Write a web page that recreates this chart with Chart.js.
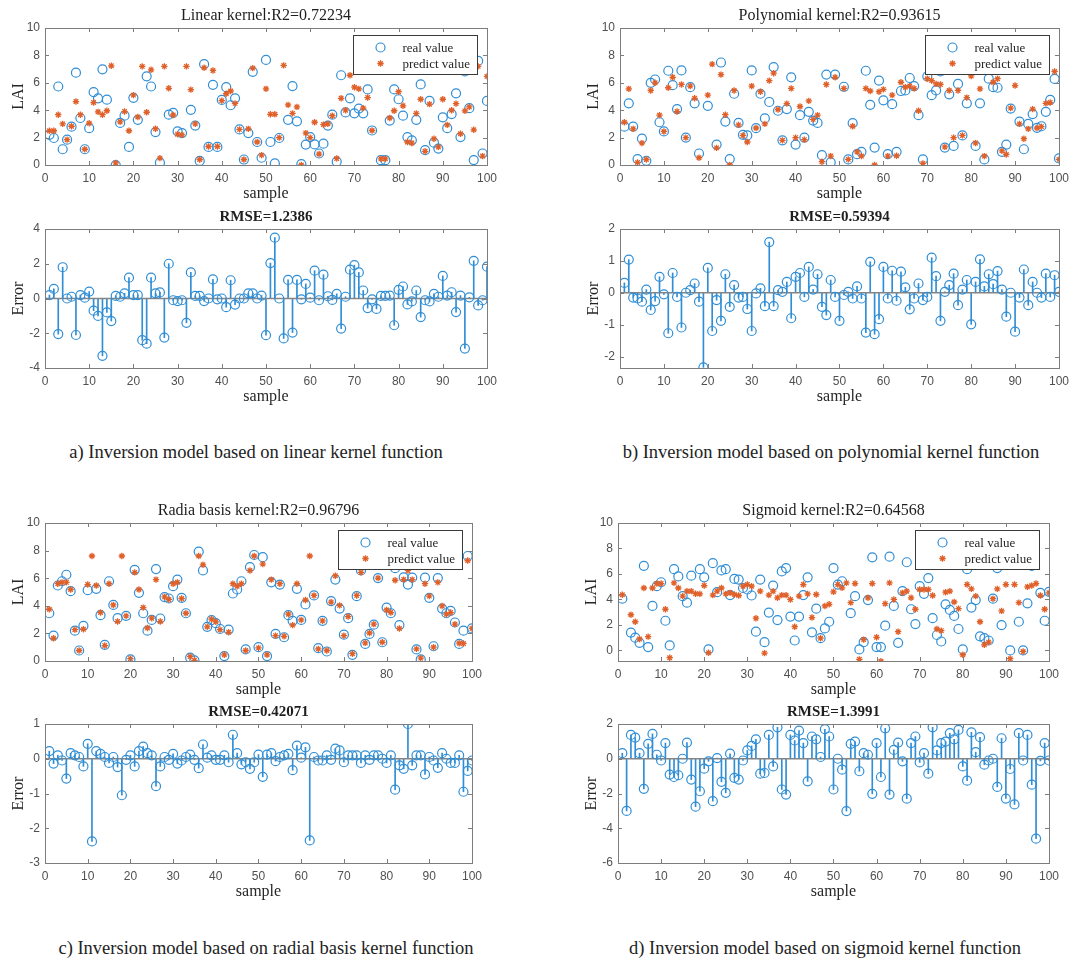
<!DOCTYPE html>
<html>
<head>
<meta charset="utf-8">
<script src="https://cdn.jsdelivr.net/npm/chart.js@4.4.0/dist/chart.umd.min.js"></script>
<style>
  body { margin: 0; background: #fff; }
  #page { position: relative; width: 1075px; height: 962px; overflow: hidden; }
  canvas { position: absolute; }
  .cap { position: absolute; width: 520px; text-align: center; font: 18.5px "Liberation Serif", serif; color: #222; line-height: 20px; }
</style>
</head>
<body>
<div id="page">
  <canvas id="fitA"></canvas>
  <canvas id="errA"></canvas>
  <canvas id="fitB"></canvas>
  <canvas id="errB"></canvas>
  <canvas id="fitC"></canvas>
  <canvas id="errC"></canvas>
  <canvas id="fitD"></canvas>
  <canvas id="errD"></canvas>
  <div class="cap" style="left:-4px; top:442px;">a) Inversion model based on linear kernel function</div>
  <div class="cap" style="left:571px; top:442px;">b) Inversion model based on polynomial kernel function</div>
  <div class="cap" style="left:6px; top:938px;">c) Inversion model based on radial basis kernel function</div>
  <div class="cap" style="left:565px; top:938px;">d) Inversion model based on sigmoid kernel function</div>
</div>
<script>
// sample index 1..100
const samples = Array.from({ length: 100 }, (_, i) => i + 1);

// linear kernel
const realA = [2.2,1.97,5.73,1.15,1.85,2.8,6.74,3.43,1.15,2.69,
  5.32,4.87,6.98,4.77,null,0.0,3.07,3.6,1.32,4.9,
  3.3,null,6.47,5.73,2.4,0.17,null,3.67,3.8,2.45,
  2.33,null,4.03,2.88,0.3,7.36,1.32,5.85,1.32,4.75,
  5.68,4.36,4.87,2.6,0.4,2.33,6.8,1.68,0.53,7.67,
  1.68,0.12,1.97,null,3.3,5.76,3.19,0.07,1.49,2.04,
  1.5,0.84,1.56,2.88,3.67,0.24,6.55,3.84,4.87,3.77,
  4.12,3.77,5.52,2.52,null,0.35,0.35,3.24,5.52,4.8,
  3.6,2.04,1.8,3.3,5.88,1.08,4.68,1.63,1.2,3.48,
  2.69,3.72,5.23,2.04,6.83,4.15,0.36,7.6,0.84,4.68];
const predA = [2.5,2.5,3.67,3.0,1.85,2.83,4.63,3.67,1.15,3.05,
  4.56,3.88,3.67,3.96,7.24,0.15,3.15,3.9,2.5,5.1,
  3.5,7.2,3.85,6.95,2.65,0.5,7.2,5.6,3.65,2.25,
  2.2,7.2,5.5,3.0,0.4,7.1,1.35,6.9,1.35,4.7,
  5.2,5.4,4.5,2.6,0.4,2.64,7.07,1.68,0.72,5.56,
  3.7,3.7,2.0,7.27,4.39,3.77,4.24,0.0,2.33,2.0,
  3.12,0.8,2.95,3.0,3.6,0.48,4.87,4.0,6.55,5.68,
  5.56,4.15,4.92,2.52,null,0.45,0.45,3.43,3.96,5.35,
  4.32,1.68,1.6,3.77,4.8,1.0,4.44,1.92,1.32,4.8,
  2.93,4.0,4.48,2.28,3.95,4.24,2.57,7.2,0.65,6.47];
const errA = [0.2,0.55,-2.05,1.8,0.0,0.1,-2.1,0.2,0.05,0.4,
  -0.7,-1.0,-3.3,-0.8,-1.3,0.15,0.1,0.3,1.2,0.2,
  0.2,-2.4,-2.6,1.2,0.3,0.35,-2.25,2.0,-0.1,-0.15,
  -0.1,-1.4,1.5,0.15,0.15,-0.15,0.0,1.1,-0.05,0.0,
  -0.5,1.05,-0.35,0.0,0.0,0.3,0.3,0.0,0.17,-2.11,
  2.04,3.5,0.0,-2.3,1.07,-1.96,1.07,-0.05,0.84,0.05,
  1.6,-0.1,1.37,0.13,-0.08,0.27,-1.73,0.1,1.66,1.92,
  1.5,0.46,-0.55,-0.05,-0.6,0.15,0.15,0.17,-1.54,0.5,
  0.69,-0.34,-0.17,0.46,-1.07,-0.1,-0.17,0.27,0.1,1.3,
  0.17,0.36,-0.78,0.17,-2.88,0.07,2.17,-0.4,-0.1,1.83];

// polynomial kernel
const realB = [2.8,4.5,2.8,0.43,1.92,0.31,6.0,6.24,3.12,2.45,
  6.88,5.83,4.08,6.9,2.0,5.68,4.5,0.84,null,4.32,
  null,1.49,7.48,3.17,0.43,5.2,3.07,2.2,2.16,6.9,
  2.69,5.2,3.4,4.6,7.15,3.96,1.8,4.08,6.4,1.49,
  3.64,2.0,3.88,3.24,3.07,0.72,6.6,0.19,6.6,null,
  5.71,0.41,3.05,0.79,0.96,6.88,4.39,1.27,6.16,4.72,
  0.79,4.44,0.96,5.4,5.44,6.35,5.76,3.64,0.41,6.47,
  5.1,5.44,6.83,1.27,5.16,1.39,5.92,2.16,4.5,7.5,
  1.39,4.5,0.41,6.3,5.68,5.64,0.96,1.49,4.12,7.0,
  3.17,1.15,3.0,3.72,2.71,2.83,3.88,4.75,6.28,0.48];
const predB = [3.12,5.56,2.64,0.19,1.6,0.4,5.44,6.0,3.64,2.45,
  5.64,6.4,3.9,5.88,2.0,5.76,4.87,0.53,null,5.1,
  7.36,1.25,6.6,3.67,0.0,5.44,2.93,2.16,1.68,5.76,
  2.7,5.35,3.0,6.16,6.7,4.05,1.8,4.48,5.59,2.0,
  4.27,1.85,4.68,3.33,3.64,0.24,5.88,0.65,6.4,null,
  5.59,0.41,2.83,0.96,0.65,5.59,5.4,0.0,5.35,5.52,
  0.65,5.1,0.67,6.04,5.68,5.76,5.59,3.96,0.12,6.3,
  6.16,5.92,5.88,1.32,5.44,2.0,5.44,2.16,4.92,6.5,
  1.6,5.56,0.65,6.9,6.04,6.3,1.03,0.77,4.15,5.8,
  3.0,1.92,2.64,4.08,2.7,2.8,4.5,4.56,6.83,0.41];
const errB = [0.31,1.04,-0.15,-0.18,-0.28,0.1,-0.54,-0.26,0.5,-0.05,
  -1.27,0.62,-0.13,-1.09,0.0,0.08,0.29,-0.28,-2.34,0.78,
  -1.2,-0.23,-0.88,0.58,-0.44,0.24,-0.15,-0.13,-0.51,-1.2,
  -0.02,0.14,-0.42,1.59,-0.42,0.08,0.03,0.34,-0.8,0.5,
  0.62,-0.13,0.81,0.1,0.58,-0.44,-0.7,0.4,-0.13,-0.88,
  -0.07,0.03,-0.18,0.2,-0.18,-1.25,0.97,-1.3,-0.83,0.81,
  -0.18,0.69,-0.25,0.66,0.17,-0.52,-0.18,0.29,-0.23,-0.13,
  1.1,0.52,-0.88,0.03,0.24,0.6,-0.39,0.1,0.4,-0.99,
  0.34,1.05,0.2,0.58,0.27,0.68,0.1,-0.75,0.0,-1.22,
  -0.15,0.73,-0.39,0.34,0.0,-0.15,0.6,-0.13,0.55,0.03];

// radial basis kernel
const realC = [3.46,1.84,5.47,5.78,6.25,5.06,2.2,0.76,2.55,5.13,
  null,5.23,3.32,1.17,5.78,4.06,3.1,null,3.27,0.12,
  6.61,4.94,3.46,2.2,2.98,6.66,3.08,4.63,4.53,5.42,
  5.9,4.58,3.46,0.24,0.05,7.92,6.56,2.48,2.96,2.74,
  2.32,0.36,2.27,4.89,5.18,5.78,0.84,6.8,7.68,1.0,
  7.52,0.36,5.7,1.96,5.54,1.72,3.32,2.91,5.23,2.98,
  4.1,null,4.75,0.93,2.91,0.69,4.34,5.9,3.8,1.91,
  3.1,0.45,4.7,6.56,1.24,1.96,2.63,6.01,1.36,3.87,
  3.46,6.73,2.6,6.06,5.54,6.04,0.84,0.12,6.04,4.58,
  1.07,6.01,3.8,3.46,3.63,2.79,1.24,2.2,7.61,2.36];
const predC = [3.75,1.65,5.6,5.7,5.7,5.18,2.27,0.76,2.3,5.54,
  7.61,5.47,3.51,1.12,5.6,4.06,2.86,7.61,3.27,0.17,
  6.42,5.18,3.87,2.39,3.1,5.9,2.86,4.65,4.46,5.6,
  5.7,4.53,3.46,0.33,0.05,7.61,6.97,2.48,3.03,2.84,
  2.27,0.45,2.08,5.6,5.42,5.6,0.76,6.56,7.61,0.95,
  7.02,0.45,5.9,1.84,5.6,1.79,3.39,2.6,5.6,2.98,
  4.42,7.61,4.75,0.88,2.91,0.76,4.27,6.18,4.03,1.84,
  3.22,0.53,4.75,6.42,1.31,2.03,2.67,6.01,1.36,3.7,
  3.51,5.85,2.36,5.9,6.56,5.9,0.88,0.21,5.6,4.7,
  1.0,5.7,3.99,3.39,3.51,2.67,1.29,1.27,7.28,2.36];
const errC = [0.22,-0.14,0.1,-0.05,-0.57,0.16,0.1,0.05,-0.22,0.43,
  -2.38,0.22,0.14,0.05,-0.12,0.05,-0.24,-1.05,-0.03,0.1,
  -0.22,0.22,0.35,0.16,0.1,-0.79,-0.22,0.05,-0.03,0.14,
  -0.14,-0.05,0.05,0.12,-0.03,-0.27,0.41,0.03,0.1,-0.03,
  -0.03,0.1,-0.1,0.69,0.16,-0.16,-0.1,-0.29,-0.1,0.12,
  -0.52,0.12,0.16,-0.07,0.05,0.1,0.14,-0.33,0.38,0.03,
  0.33,-2.35,0.05,-0.05,-0.05,0.1,-0.03,0.29,0.24,-0.1,
  0.1,0.1,0.1,-0.12,0.1,-0.03,0.1,0.1,0.0,-0.12,
  0.1,-0.89,-0.19,-0.29,1.0,-0.19,0.1,0.1,-0.45,0.05,
  -0.05,-0.26,0.16,0.0,-0.12,-0.12,0.1,-0.95,-0.35,-0.05];

// sigmoid kernel
const realD = [4.06,null,1.4,1.0,0.6,6.64,0.26,3.49,5.04,5.35,
  2.33,0.39,6.38,5.81,4.26,3.75,5.87,null,6.38,5.74,
  0.08,6.85,4.57,6.28,6.38,4.34,5.61,5.56,4.9,4.78,
  4.31,1.47,5.56,0.65,2.97,5.09,2.38,6.2,6.46,2.66,
  0.78,2.66,4.34,5.74,1.42,3.28,0.96,1.73,2.25,6.46,
  5.17,5.43,null,2.92,4.26,0.08,0.65,3.95,7.31,0.26,
  0.26,1.94,7.36,3.49,0.6,4.65,6.92,3.23,2.07,5.04,
  4.44,5.68,2.53,1.21,0.7,3.62,3.18,2.71,1.68,0.08,
  6.38,3.36,3.95,1.11,0.96,0.78,4.06,6.46,1.99,7.5,
  0.0,7.8,2.25,0.0,3.7,6.64,null,4.52,2.33,4.6];
const predD = [4.37,null,2.8,2.25,0.9,4.9,1.08,4.9,5.25,5.25,
  3.23,-0.57,5.3,4.9,4.26,4.65,4.65,4.45,4.44,5.09,
  -0.18,4.34,4.65,4.9,4.44,4.52,4.39,4.31,5.04,5.17,
  5.04,2.53,4.65,-0.21,4.34,4.65,4.13,4.34,4.34,4.0,
  1.86,4.26,5.17,4.44,2.58,4.39,0.96,3.49,3.62,4.6,
  5.17,4.91,5.3,3.75,5.25,-0.7,0.85,4.13,5.25,1.03,
  -0.85,3.67,5.3,4.0,1.47,4.52,4.65,4.13,3.23,4.78,
  4.78,4.78,4.31,1.68,1.55,4.57,4.65,3.8,3.28,-0.34,
  5.17,4.83,4.26,2.25,0.44,0.65,4.06,4.83,3.1,5.17,
  -0.65,5.17,3.75,-0.08,4.99,5.09,5.25,4.31,3.23,4.52];
const errD = [0.32,-3.0,1.37,1.22,0.32,-1.73,0.86,1.43,0.23,-0.1,
  0.9,-0.91,-1.05,-0.95,0.0,0.93,-1.2,-2.76,-1.87,-0.57,
  -0.15,-2.44,0.04,-1.33,-1.96,0.29,-1.1,-1.2,-0.1,0.48,
  0.74,1.12,-0.86,-0.82,1.37,-0.44,1.81,-1.77,-2.06,1.37,
  1.05,1.62,0.9,-1.3,1.28,1.12,0.1,1.7,1.28,-1.77,
  0.0,-0.63,-3.01,0.86,0.99,-0.72,0.32,0.23,-2.02,0.9,
  -1.05,1.75,-2.06,0.51,0.93,-0.15,-2.3,0.9,1.28,-0.21,
  0.32,-0.86,1.81,0.48,0.9,0.99,1.47,1.12,1.66,-0.44,
  -1.26,1.52,0.38,1.24,-0.34,-0.1,0.0,-1.62,1.18,-2.29,
  -0.59,-2.63,1.47,-0.1,1.37,-1.49,-4.6,-0.12,0.9,-0.1];

const blue = '#2f8ed6';
const orange = '#e0602a';
const frameColor = '#7d7d7d';
const serif = 'Liberation Serif';
const sans = 'Liberation Sans';

// axes box with inward ticks on all four sides
const axesBox = {
  id: 'axesBox',
  afterDatasetsDraw(chart) {
    const { ctx, chartArea: a, scales } = chart;
    const len = 4;
    ctx.save();
    ctx.strokeStyle = frameColor;
    ctx.lineWidth = 1;
    ctx.beginPath();
    scales.x.ticks.forEach(t => {
      const px = Math.round(scales.x.getPixelForValue(t.value)) + 0.5;
      ctx.moveTo(px, a.bottom); ctx.lineTo(px, a.bottom - len);
      ctx.moveTo(px, a.top); ctx.lineTo(px, a.top + len);
    });
    scales.y.ticks.forEach(t => {
      const py = Math.round(scales.y.getPixelForValue(t.value)) + 0.5;
      ctx.moveTo(a.left, py); ctx.lineTo(a.left + len, py);
      ctx.moveTo(a.right, py); ctx.lineTo(a.right - len, py);
    });
    ctx.stroke();
    ctx.strokeRect(Math.round(a.left) + 0.5, Math.round(a.top) + 0.5,
      Math.round(a.right - a.left), Math.round(a.bottom - a.top));
    ctx.restore();
  }
};

// boxed legend in the upper right corner of the axes
const boxLegend = {
  id: 'boxLegend',
  afterDraw(chart) {
    const { ctx, chartArea: a } = chart;
    const w = 124, h = 39;
    const left = Math.round(a.right - 10 - w) + 0.5, top = Math.round(a.top + 7) + 0.5;
    ctx.save();
    ctx.fillStyle = '#fff';
    ctx.fillRect(left, top, w, h);
    ctx.strokeStyle = '#3a3a3a';
    ctx.lineWidth = 1;
    ctx.strokeRect(left, top, w, h);
    const rows = chart.data.datasets.slice().sort((p, q) => p.legendRank - q.legendRank);
    rows.forEach((ds, i) => {
      const y = top + 12 + i * 16;
      ctx.strokeStyle = ds.borderColor;
      ctx.fillStyle = 'rgba(0,0,0,0)';
      ctx.lineWidth = ds.borderWidth;
      Chart.helpers.drawPoint(ctx, { pointStyle: ds.pointStyle, radius: ds.radius, borderWidth: ds.borderWidth, rotation: 0 }, left + 27, y);
      ctx.fillStyle = '#262626';
      ctx.font = '13px "' + serif + '"';
      ctx.textBaseline = 'middle';
      ctx.fillText(ds.label, left + 49, y + 1);
    });
    ctx.restore();
  }
};

function place(canvas, area) {
  canvas.width = area.r - area.l + 60;
  canvas.height = area.b - area.t + 66;
  canvas.style.left = (area.l - 45) + 'px';
  canvas.style.top = (area.t - 26) + 'px';
}

function axisOptions(min, max, step, label, isX) {
  return {
    type: 'linear',
    min: min,
    max: max,
    offset: false,
    ticks: { stepSize: step, includeBounds: false, padding: isX ? 6 : 5, color: '#505050', font: { family: sans, size: 12 } },
    grid: { display: false, drawTicks: false, offset: false },
    border: { display: false },
    title: {
      display: true, text: label, color: '#262626',
      font: { family: serif, size: 16 },
      padding: isX ? { top: 0, bottom: 2 } : { top: 9, bottom: 0 }
    },
    afterFit(scale) {
      if (isX) scale.height = 40; else scale.width = 45;
    }
  };
}

function baseOptions(title, titleFont, yAxis) {
  return {
    responsive: false,
    animation: false,
    devicePixelRatio: 1,
    events: [],
    layout: { padding: { left: 0, right: 15, top: 0, bottom: 0 } },
    plugins: {
      legend: { display: false },
      tooltip: { enabled: false },
      title: {
        display: true, text: title, fullSize: false, color: '#1e1e1e',
        font: titleFont,
        padding: { top: 8, bottom: 4 }
      }
    },
    scales: {
      x: axisOptions(0, 100, 10, 'sample', true),
      y: yAxis
    }
  };
}

function fitChart(id, area, title, real, pred, yMin) {
  const canvas = document.getElementById(id);
  place(canvas, area);
  return new Chart(canvas, {
    type: 'scatter',
    data: {
      datasets: [
        {
          label: 'real value', legendRank: 0, order: 2,
          data: samples.map((s, i) => ({ x: s, y: real[i] })),
          pointStyle: 'circle', radius: 4.5, borderWidth: 1.2,
          borderColor: blue, backgroundColor: 'rgba(0,0,0,0)'
        },
        {
          label: 'predict value', legendRank: 1, order: 1,
          data: samples.map((s, i) => ({ x: s, y: pred[i] })),
          pointStyle: 'star', radius: 3.2, borderWidth: 1.3,
          borderColor: orange, backgroundColor: orange
        }
      ]
    },
    options: baseOptions(title, { family: serif, size: 16, weight: 'normal', lineHeight: 1 },
      axisOptions(yMin, 10, 2, 'LAI', false)),
    plugins: [axesBox, boxLegend]
  });
}

function errChart(id, area, title, err, yMin, yMax, step) {
  const canvas = document.getElementById(id);
  place(canvas, area);
  const pts = samples.map((s, i) => ({ x: s, y: err[i] }));
  return new Chart(canvas, {
    type: 'scatter',
    data: {
      datasets: [
        {
          type: 'scatter', order: 0, data: pts,
          pointStyle: 'circle', radius: 4.5, borderWidth: 1.2,
          borderColor: blue, backgroundColor: 'rgba(0,0,0,0)'
        },
        {
          type: 'line', order: 1, data: [{ x: 0, y: 0 }, { x: 100, y: 0 }],
          borderColor: '#858585', borderWidth: 1.4, pointRadius: 0
        },
        {
          type: 'bar', order: 2, data: pts,
          backgroundColor: blue, barThickness: 1, borderWidth: 0
        }
      ]
    },
    options: baseOptions(title, { family: serif, size: 15, weight: 'bold', lineHeight: 1 },
      axisOptions(yMin, yMax, step, 'Error', false)),
    plugins: [axesBox]
  });
}

fitChart('fitA', { l: 45, t: 26, r: 488, b: 165 }, 'Linear kernel:R2=0.72234', realA, predA, 0);
errChart('errA', { l: 45, t: 228, r: 488, b: 368 }, 'RMSE=1.2386', errA, -4, 4, 2);
fitChart('fitB', { l: 620, t: 26, r: 1060, b: 165 }, 'Polynomial kernel:R2=0.93615', realB, predB, 0);
errChart('errB', { l: 620, t: 228, r: 1060, b: 368 }, 'RMSE=0.59394', errB, -2.36, 2, 1);
fitChart('fitC', { l: 45, t: 521, r: 473, b: 661 }, 'Radia basis kernel:R2=0.96796', realC, predC, 0);
errChart('errC', { l: 45, t: 723, r: 473, b: 863 }, 'RMSE=0.42071', errC, -3, 1, 1);
fitChart('fitD', { l: 618, t: 521, r: 1050, b: 661 }, 'Sigmoid kernel:R2=0.64568', realD, predD, -0.83);
errChart('errD', { l: 618, t: 723, r: 1050, b: 863 }, 'RMSE=1.3991', errD, -6, 2, 2);
</script>
</body>
</html>
